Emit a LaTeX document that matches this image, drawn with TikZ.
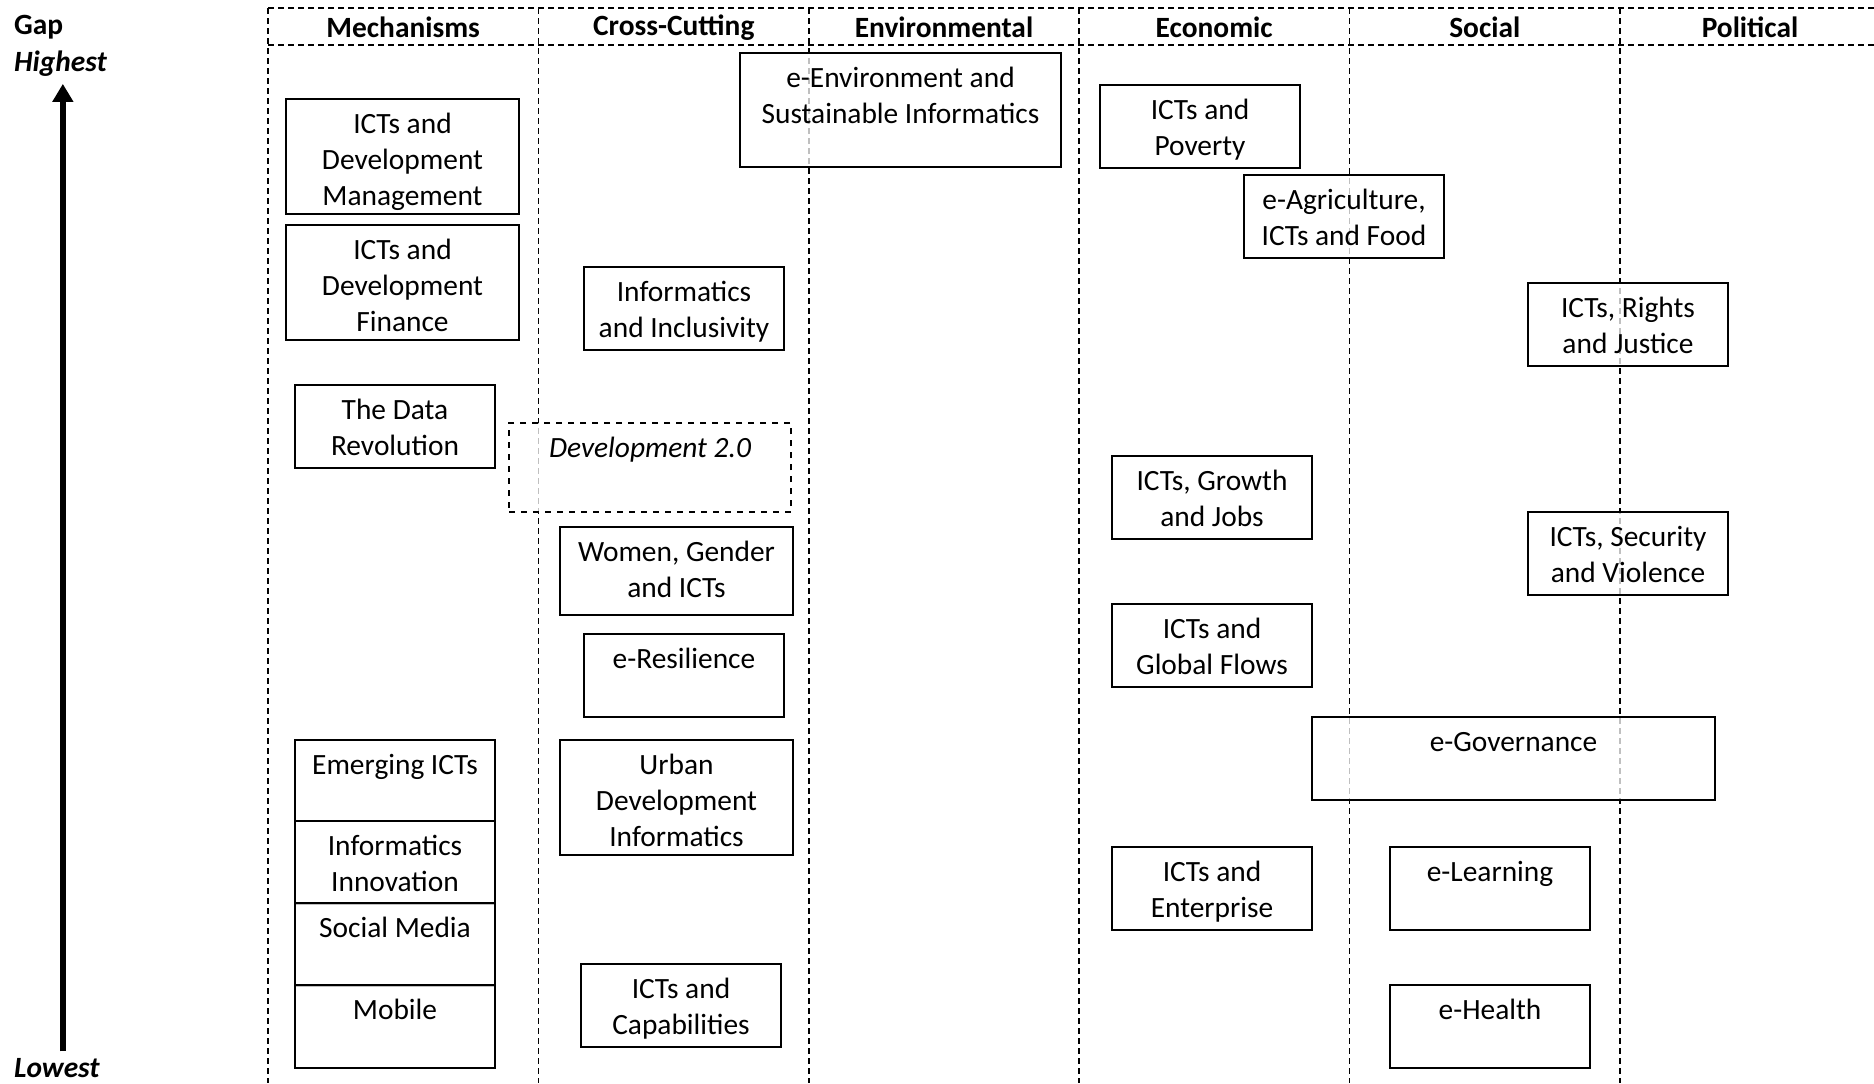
\documentclass[tikz,border=0pt]{standalone}
\usepackage{fontspec}
\setmainfont{Carlito}
\usetikzlibrary{arrows.meta}

\begin{document}
\begin{tikzpicture}[x=0.5pt,y=-0.5pt,
    grid/.style={line width=0.8pt,dash pattern=on 3pt off 2pt},
    topic/.style={draw,line width=1pt,fill=white,fill opacity=0.75,text opacity=1,
      anchor=north west,inner sep=0pt,align=center,text height=35pt,text depth=6.3pt,
      minimum width=100pt,font=\fontsize{14.7pt}{18pt}\selectfont},
    single/.style={text height=17pt,text depth=24.3pt},
    tall/.style={text height=53pt,text depth=4.3pt},
    wide/.style={minimum width=116.5pt},
    head/.style={font=\fontsize{14.7pt}{18pt}\selectfont\bfseries},
    gaparrow/.style={-{Triangle[width=10pt,length=9pt]},line width=2.8pt}]
    \useasboundingbox (0,0) rectangle (1874,1083);

    % Gap axis
    \node[head,anchor=west] (gap) at (7,27.5) {Gap};
    \node[head,anchor=west,font=\fontsize{14.7pt}{18pt}\selectfont\bfseries\itshape] (high) at (7,64) {Highest};
    \node[head,anchor=west,font=\fontsize{14.7pt}{18pt}\selectfont\bfseries\itshape] (low) at (7,1068) {Lowest};
    \draw[gaparrow] ([xshift=3pt]low.north) -- ([xshift=3pt]low.north |- high.south);

    % columns
    \draw[grid] (268,8) -- (1874,8);
    \draw[grid] (268,45) -- (1874,45);
    \draw[grid] (268,8) -- (268,1083);
    \draw[grid] (538.5,8) -- (538.5,1083);
    \draw[grid] (809,8) -- (809,1083);
    \draw[grid] (1079,8) -- (1079,1083);
    \draw[grid] (1349.5,8) -- (1349.5,1083);
    \draw[grid] (1620,8) -- (1620,1083);
    \node[head] (mech) at (403.2,27.5) {Mechanisms};
    \node[head] (cross) at (673.8,27.5) {Cross-Cutting};
    \node[head] (env) at (944,27.5) {Environmental};
    \node[head] (econ) at (1214.2,27.5) {Economic};
    \node[head] (soc) at (1484.8,27.5) {Social};
    \node[head] (pol) at (1750,27.5) {Political};

    % Mechanisms
    \node[topic,wide,tall] (mgmt) at (285,98) {ICTs and\\Development\\Management};
    \node[topic,wide,tall] (finance) at (285,224) {ICTs and\\Development\\Finance};
    \node[topic] (data) at (294,384) {The Data\\Revolution};
    \node[topic,single,text depth=23.5pt] (emerging) at (294,739) {Emerging ICTs};
    \node[topic] (innovation) at (294,820) {Informatics\\Innovation};
    \node[topic,single] (socmedia) at (294,902) {Social Media};
    \node[topic,single] (mobile) at (294,984) {Mobile};

    % Cross-Cutting
    \node[topic] (inclusivity) at (583,266) {Informatics\\and Inclusivity};
    \node[topic,single,dashed,minimum width=141pt,text depth=27.5pt,font=\fontsize{14.7pt}{18pt}\selectfont\itshape] (devtwo) at (508,422) {Development 2.0};
    \node[topic,wide,text depth=9pt] (women) at (559,526) {Women, Gender\\and ICTs};
    \node[topic,single] (resilience) at (583,633) {e-Resilience};
    \node[topic,wide,tall] (urban) at (559,739) {Urban\\Development\\Informatics};
    \node[topic] (capabilities) at (580,963) {ICTs and\\Capabilities};

    % Environmental
    \node[topic,text depth=22pt,minimum width=160.5pt] (environment) at (739,52) {e-Environment and\\Sustainable Informatics};

    % Economic
    \node[topic] (poverty) at (1099,84) {ICTs and\\Poverty};
    \node[topic] (agriculture) at (1243,174) {e-Agriculture,\\ICTs and Food};
    \node[topic] (growth) at (1111,455) {ICTs, Growth\\and Jobs};
    \node[topic] (flows) at (1111,603) {ICTs and\\Global Flows};
    \node[topic] (enterprise) at (1111,846) {ICTs and\\Enterprise};

    % Social
    \node[topic,single,minimum width=201.5pt] (governance) at (1311,716) {e-Governance};
    \node[topic,single] (learning) at (1389,846) {e-Learning};
    \node[topic,single] (health) at (1389,984) {e-Health};

    % Political
    \node[topic] (rights) at (1527,282) {ICTs, Rights\\and Justice};
    \node[topic] (security) at (1527,511) {ICTs, Security\\and Violence};
\end{tikzpicture}
\end{document}
